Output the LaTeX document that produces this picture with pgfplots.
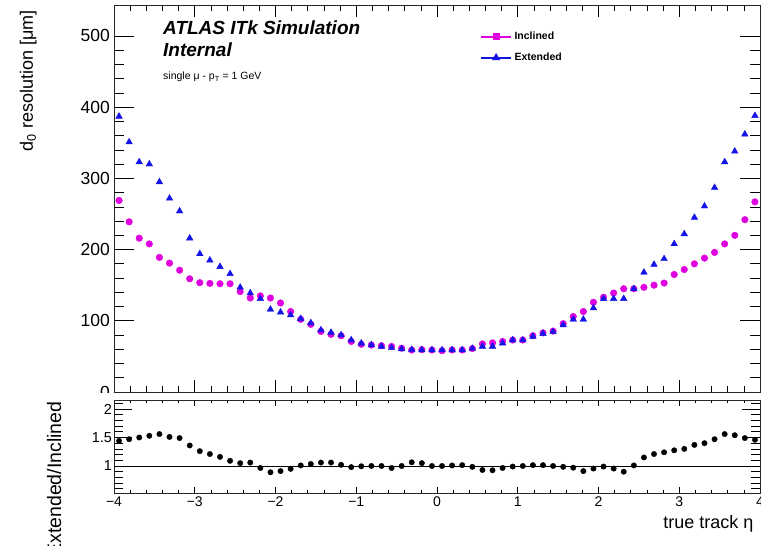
\documentclass[border=0pt]{standalone}
\usepackage{fontspec}
\setmainfont{Liberation Sans}
\usepackage{pgfplots}
\pgfplotsset{compat=1.18}
\usepackage{pgfplotstable}
\definecolor{incl}{RGB}{222,0,222}
\definecolor{ext}{RGB}{20,20,230}

\pgfplotstableread{
eta d0
-3.9375 269
-3.8125 239
-3.6875 216
-3.5625 208
-3.4375 189
-3.3125 181
-3.1875 171
-3.0625 159
-2.9375 153.5
-2.8125 152.5
-2.6875 152
-2.5625 152
-2.4375 141
-2.3125 132
-2.1875 135
-2.0625 132
-1.9375 125
-1.8125 113
-1.6875 102
-1.5625 95
-1.4375 85
-1.3125 81
-1.1875 79
-1.0625 71
-0.9375 67
-0.8125 66
-0.6875 65
-0.5625 64
-0.4375 61.5
-0.3125 59
-0.1875 59.5
-0.0625 59
0.0625 58
0.1875 59
0.3125 59
0.4375 61
0.5625 67.6
0.6875 69
0.8125 71
0.9375 73
1.0625 73
1.1875 79
1.3125 83
1.4375 85.5
1.5625 96
1.6875 106
1.8125 113
1.9375 126
2.0625 133
2.1875 139
2.3125 145
2.4375 145
2.5625 147
2.6875 150
2.8125 153
2.9375 165
3.0625 172
3.1875 180
3.3125 188
3.4375 196
3.5625 208
3.6875 220
3.8125 242
3.9375 267
}\inclined

\pgfplotstableread{
eta d0
-3.9375 387
-3.8125 351
-3.6875 323
-3.5625 320
-3.4375 295
-3.3125 272
-3.1875 254
-3.0625 216
-2.9375 194
-2.8125 185
-2.6875 176
-2.5625 166
-2.4375 147
-2.3125 139
-2.1875 131
-2.0625 116
-1.9375 112
-1.8125 108
-1.6875 103
-1.5625 97
-1.4375 87
-1.3125 83.5
-1.1875 80
-1.0625 73
-0.9375 68.5
-0.8125 66
-0.6875 64
-0.5625 62
-0.4375 60.5
-0.3125 59.5
-0.1875 59
-0.0625 59
0.0625 59
0.1875 59
0.3125 59
0.4375 61
0.5625 64
0.6875 64
0.8125 68.5
0.9375 73
1.0625 73
1.1875 78
1.3125 82
1.4375 84.5
1.5625 94
1.6875 102
1.8125 102
1.9375 118
2.0625 131
2.1875 131
2.3125 131
2.4375 145
2.5625 168
2.6875 179
2.8125 187
2.9375 208
3.0625 222
3.1875 245
3.3125 261
3.4375 287
3.5625 323
3.6875 338
3.8125 362
3.9375 388
}\extended

\pgfplotstableread{
eta r
-3.9375 1.44
-3.8125 1.47
-3.6875 1.50
-3.5625 1.53
-3.4375 1.56
-3.3125 1.51
-3.1875 1.49
-3.0625 1.36
-2.9375 1.26
-2.8125 1.21
-2.6875 1.16
-2.5625 1.09
-2.4375 1.05
-2.3125 1.06
-2.1875 0.965
-2.0625 0.89
-1.9375 0.91
-1.8125 0.95
-1.6875 1.01
-1.5625 1.035
-1.4375 1.06
-1.3125 1.06
-1.1875 1.02
-1.0625 0.98
-0.9375 0.995
-0.8125 1.0
-0.6875 1.0
-0.5625 0.965
-0.4375 1.0
-0.3125 1.065
-0.1875 1.05
-0.0625 1.0
0.0625 1.0
0.1875 1.01
0.3125 1.015
0.4375 0.985
0.5625 0.93
0.6875 0.925
0.8125 0.965
0.9375 0.99
1.0625 1.0
1.1875 1.015
1.3125 1.015
1.4375 1.0
1.5625 0.985
1.6875 0.97
1.8125 0.91
1.9375 0.955
2.0625 0.99
2.1875 0.955
2.3125 0.90
2.4375 1.01
2.5625 1.15
2.6875 1.21
2.8125 1.24
2.9375 1.275
3.0625 1.30
3.1875 1.37
3.3125 1.40
3.4375 1.47
3.5625 1.56
3.6875 1.54
3.8125 1.49
3.9375 1.46
}\ratio

\begin{document}
\begin{tikzpicture}[x=1pt,y=1pt]
\path[use as bounding box] (0,0) rectangle (761,546);

\begin{axis}[
  at={(114pt,154pt)}, anchor=south west, scale only axis,
  width=646pt, height=387pt,
  xmin=-4, xmax=4, ymin=0, ymax=543.5,
  xtick={-4,-3,...,4}, xticklabels={},
  minor x tick num=4,
  ytick={0,100,...,500}, minor y tick num=4,
  tick align=inside, xtick pos=both, ytick pos=both,
  xtick style={/pgfplots/major tick length=12pt, /pgfplots/minor tick length=6pt},
  ytick style={/pgfplots/major tick length=20pt, /pgfplots/minor tick length=10pt},
  every tick/.append style={black, line width=0.7pt},
  axis line style={black!85, line width=0.9pt},
  /pgf/number format/assume math mode=true,
  yticklabel style={font=\fontsize{17.5}{18}\selectfont, inner sep=0pt, xshift=-4pt},
  ylabel={d\textsubscript{0} resolution [μm]},
  every axis y label/.style={at={(axis description cs:-0.1254,0.995)}, rotate=90, anchor=base east, font=\fontsize{18}{20}\selectfont},
  legend image code/.code={\draw[mark repeat=2,mark phase=2,#1] plot coordinates {(0pt,0pt) (15pt,0pt) (30pt,0pt)};},
  legend style={at={(axis description cs:0.5666,0.937)}, anchor=north west, draw=none, fill=none,
    inner sep=0pt, row sep=7pt, font=\bfseries\fontsize{10.5}{11}\selectfont,
    nodes={inner sep=2.5pt}},
  legend cell align=left,
]
\addplot[only marks, mark=*, mark size=3.3pt, color=incl, forget plot] table[x=eta,y=d0] {\inclined};
\addplot[only marks, mark=triangle*, mark size=3.8pt, color=ext, forget plot] table[x=eta,y=d0] {\extended};
\addlegendimage{incl, line width=1.8pt, mark=square*, mark size=2.6pt}
\addlegendentry{Inclined}
\addlegendimage{ext, line width=1.8pt, mark=triangle*, mark size=3pt}
\addlegendentry{Extended}
\end{axis}

\node[anchor=base west, inner sep=0pt, font=\bfseries\itshape\fontsize{19}{20}\selectfont] at (163,511) {ATLAS ITk Simulation};
\node[anchor=base west, inner sep=0pt, font=\bfseries\itshape\fontsize{19}{20}\selectfont] at (163,489) {Internal};
\node[anchor=base west, inner sep=0pt, font=\fontsize{10.5}{11}\selectfont] at (163,466) {single μ - p\textsubscript{T} = 1 GeV};

\fill[white] (0,0) rectangle (761,152.5);

\begin{axis}[
  at={(114pt,53pt)}, anchor=south west, scale only axis,
  width=646pt, height=93pt,
  xmin=-4, xmax=4, ymin=0.526, ymax=2.158,
  xtick={-4,-3,...,4}, xticklabels={−4,−3,−2,−1,0,1,2,3,4},
  minor x tick num=4,
  ytick={1,1.5,2}, yticklabels={1,1.5,2}, minor ytick={0.6,0.7,0.8,0.9,1.1,1.2,1.3,1.4,1.6,1.7,1.8,1.9,2.1},
  tick align=inside, xtick pos=both, ytick pos=both,
  xtick style={/pgfplots/major tick length=6pt, /pgfplots/minor tick length=3pt},
  ytick style={/pgfplots/major tick length=18pt, /pgfplots/minor tick length=9pt},
  every tick/.append style={black, line width=0.7pt},
  axis line style={black!85, line width=0.9pt},
  xticklabel style={font=\fontsize{14}{15}\selectfont, inner sep=0pt, yshift=-4pt},
  yticklabel style={font=\fontsize{14.4}{15}\selectfont, inner sep=0pt, xshift=-2pt},
  xlabel={true track η},
  every axis x label/.style={at={(axis description cs:0.9954,-0.387)}, anchor=base east, font=\fontsize{18}{20}\selectfont},
  ylabel={Extended/Inclined},
  every axis y label/.style={at={(axis description cs:-0.082,1.02)}, rotate=90, anchor=base east, font=\fontsize{19.5}{21}\selectfont},
]
\addplot[black, line width=0.9pt, forget plot] coordinates {(-4,1) (4,1)};
\addplot[only marks, mark=*, mark size=2.7pt, black] table[x=eta,y=r] {\ratio};
\end{axis}
\end{tikzpicture}
\end{document}
